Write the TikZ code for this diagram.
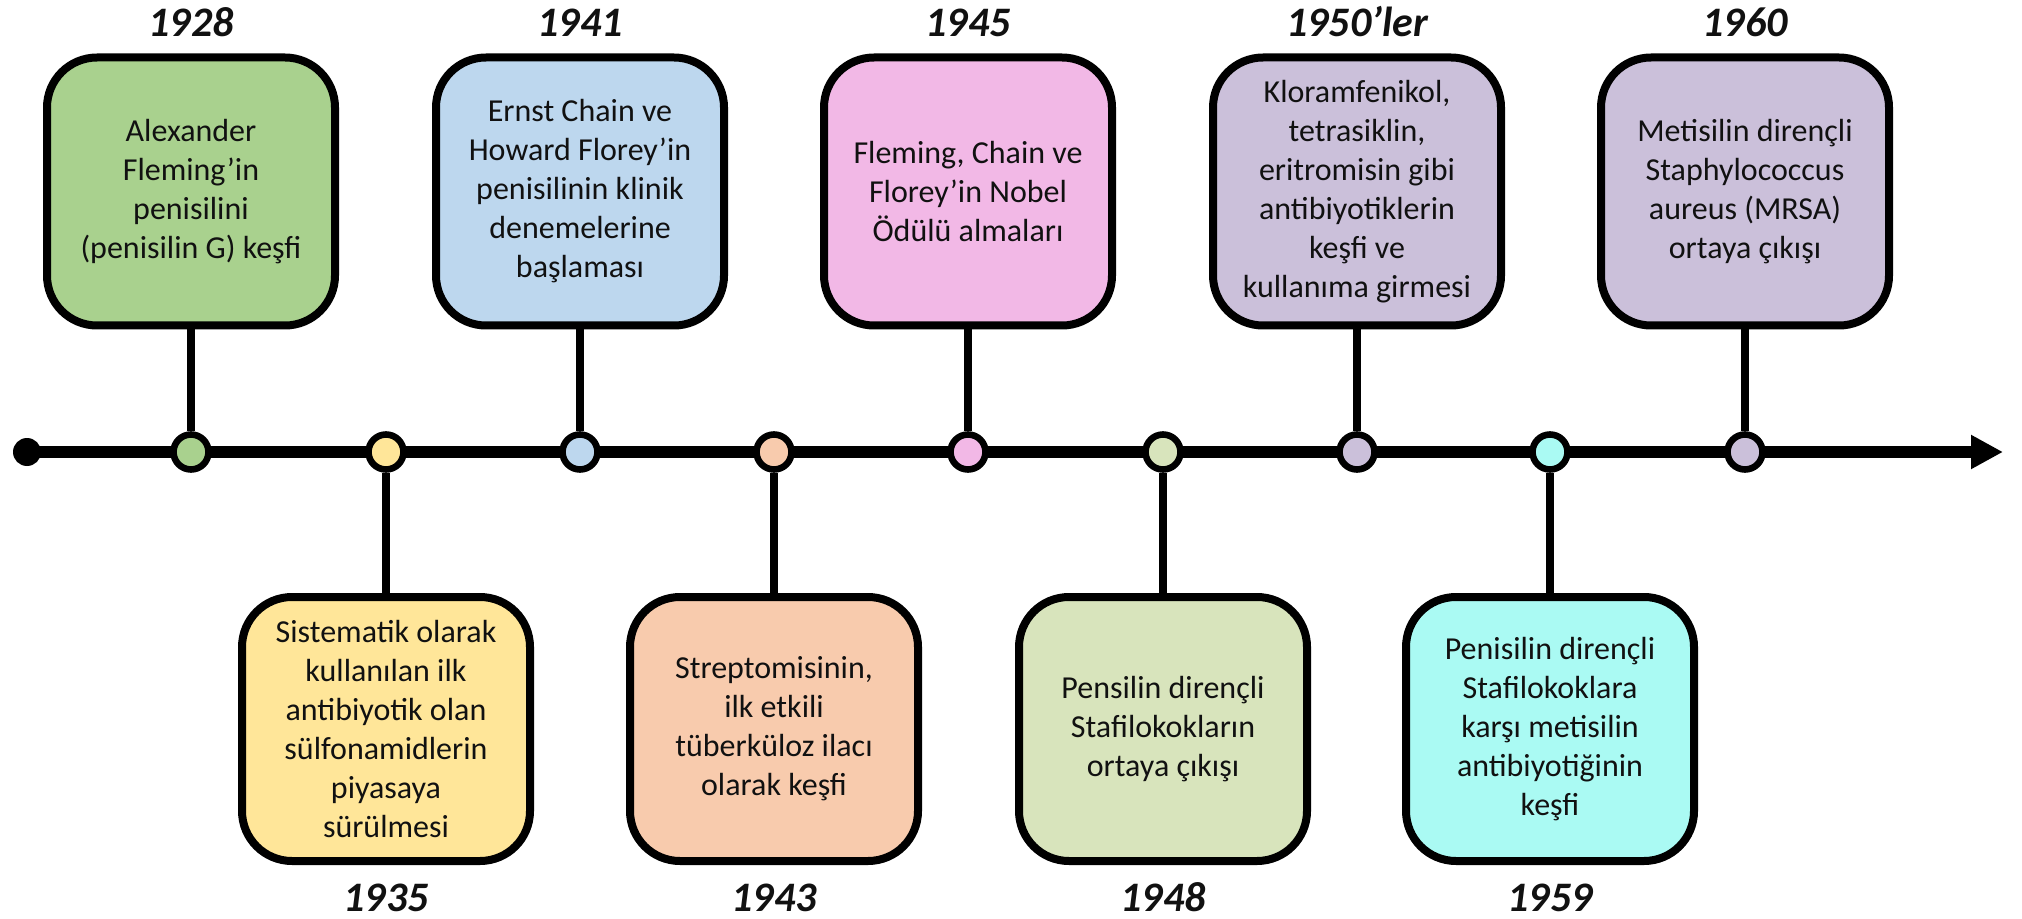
\documentclass[tikz,border=0pt]{standalone}
\usepackage{fontspec}
\setmainfont{Carlito}
\usetikzlibrary{arrows.meta}
\definecolor{cA}{HTML}{A9D18E}
\definecolor{cB}{HTML}{FFE699}
\definecolor{cC}{HTML}{BDD7EE}
\definecolor{cD}{HTML}{F8CBAD}
\definecolor{cE}{HTML}{F2B8E6}
\definecolor{cF}{HTML}{D8E4BC}
\definecolor{cG}{HTML}{CBC0DA}
\definecolor{cH}{HTML}{AAFAF3}
\definecolor{txt}{HTML}{111111}
\begin{document}
\begin{tikzpicture}[x=0.5pt,y=-0.5pt,
  box/.style={draw=black, line width=4pt, rounded corners=25pt,
    minimum width=144pt, minimum height=134pt, align=center,
    font=\fontsize{16}{19.5}\selectfont, text=txt, inner sep=0pt},
  botbox/.style={box, minimum height=132pt},
  dotn/.style={circle, draw=black, line width=3.3pt, minimum size=17.5pt, inner sep=0pt},
  yr/.style={font=\fontsize{21}{24}\selectfont\bfseries\itshape, anchor=base, inner sep=0pt, text=txt},
  stem/.style={line width=3.8pt},
  axis/.style={line width=6pt, -{Triangle[length=16pt,width=16pt]}}]
\useasboundingbox (0,0) rectangle (2022,919);
\fill[white] (0,0) rectangle (2022,919);
% axis
\node[circle, fill=black, minimum size=14pt, inner sep=0pt] (s) at (27,452) {};
\coordinate (e) at (2003,452);
\draw[axis] (s.center) -- (e);
% dots
\node[dotn, fill=cA] (d1) at (191,452) {};
\node[dotn, fill=cB] (d2) at (386,452) {};
\node[dotn, fill=cC] (d3) at (580,452) {};
\node[dotn, fill=cD] (d4) at (774,452) {};
\node[dotn, fill=cE] (d5) at (968,452) {};
\node[dotn, fill=cF] (d6) at (1163,452) {};
\node[dotn, fill=cG] (d7) at (1357,452) {};
\node[dotn, fill=cH] (d8) at (1550,452) {};
\node[dotn, fill=cG] (d9) at (1745,452) {};
% top boxes
\node[box, fill=cA] (b1) at (191,191.5) {Alexander\\Fleming’in\\penisilini\\(penisilin G) keşfi};
\node[box, fill=cC] (b3) at (580,191.5) {Ernst Chain ve\\Howard Florey’in\\penisilinin klinik\\denemelerine\\başlaması};
\node[box, fill=cE] (b5) at (968,191.5) {Fleming, Chain ve\\Florey’in Nobel\\Ödülü almaları};
\node[box, fill=cG] (b7) at (1357,191.5) {Kloramfenikol,\\tetrasiklin,\\eritromisin gibi\\antibiyotiklerin\\keşfi ve\\kullanıma girmesi};
\node[box, fill=cG] (b9) at (1745,191.5) {Metisilin dirençli\\Staphylococcus\\aureus (MRSA)\\ortaya çıkışı};
% bottom boxes
\node[botbox, fill=cB] (b2) at (386,729) {Sistematik olarak\\kullanılan ilk\\antibiyotik olan\\sülfonamidlerin\\piyasaya\\sürülmesi};
\node[botbox, fill=cD] (b4) at (774,729) {Streptomisinin,\\ilk etkili\\tüberküloz ilacı\\olarak keşfi};
\node[botbox, fill=cF] (b6) at (1163,729) {Pensilin dirençli\\Stafilokokların\\ortaya çıkışı};
\node[botbox, fill=cH] (b8) at (1550,729) {Penisilin dirençli\\Stafilokoklara\\karşı metisilin\\antibiyotiğinin\\keşfi};
% stems
\foreach \i in {1,3,5,7,9} \draw[stem] (d\i.north) -- (b\i.south);
\foreach \i in {2,4,6,8} \draw[stem] (d\i.south) -- (b\i.north);
% years
\node[yr] (y1) at (191,37) {1928};
\node[yr] (y3) at (580,37) {1941};
\node[yr] (y5) at (968,37) {1945};
\node[yr] (y7) at (1357,37) {1950’ler};
\node[yr] (y9) at (1745,37) {1960};
\node[yr] (y2) at (386,911) {1935};
\node[yr] (y4) at (774,911) {1943};
\node[yr] (y6) at (1163,911) {1948};
\node[yr] (y8) at (1550,911) {1959};
\end{tikzpicture}
\end{document}
